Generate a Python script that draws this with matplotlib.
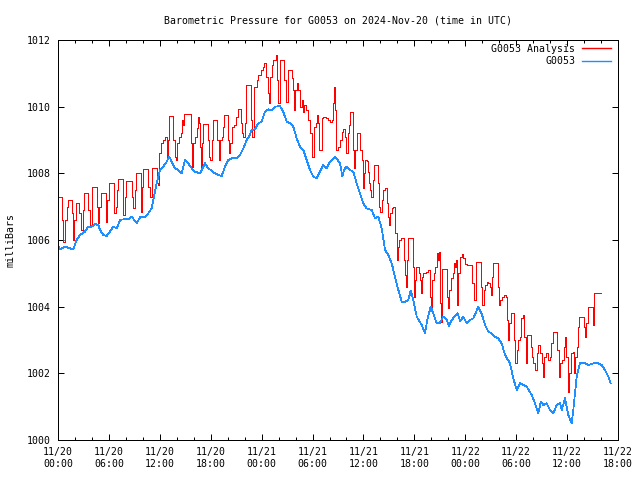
import matplotlib
matplotlib.use("Agg")
import matplotlib.pyplot as plt

# ---- data (hours since 2024-11-20 00:00 UTC) ----
analysis_hours = [
    0.00, 0.51, 0.62, 0.83, 1.03, 1.14, 1.61, 1.71, 1.89, 2.09, 2.51, 2.68, 2.89, 3.10, 3.57, 3.77,
    3.97, 4.56, 4.71, 4.89, 5.03, 5.62, 5.83, 6.05, 6.60, 6.78, 6.99, 7.11, 7.70, 7.90, 8.01, 8.69,
    8.84, 9.02, 9.16, 9.75, 9.90, 10.05, 10.64, 10.84, 11.02, 11.11, 11.67, 11.79, 11.94, 12.14,
    12.41, 12.61, 12.81, 12.88, 13.02, 13.12, 13.59, 13.79, 13.91, 14.06, 14.26, 14.46, 14.58,
    14.70, 14.85, 15.64, 15.79, 15.95, 16.15, 16.35, 16.54, 16.65, 16.77, 16.89, 17.01, 17.13,
    17.64, 17.80, 17.97, 18.12, 18.30, 18.70, 18.94, 19.09, 19.29, 19.41, 19.60, 20.00, 20.15,
    20.27, 20.47, 20.74, 20.94, 21.18, 21.57, 21.69, 21.84, 22.00, 22.16, 22.71, 22.90, 23.10,
    23.42, 23.61, 23.93, 24.20, 24.31, 24.51, 24.72, 24.83, 24.99, 25.19, 25.38, 25.66, 25.81,
    25.96, 26.16, 26.67, 26.91, 27.07, 27.54, 27.66, 27.78, 27.93, 28.13, 28.29, 28.52, 28.72,
    28.91, 29.03, 29.23, 29.47, 29.70, 29.90, 29.99, 30.21, 30.37, 30.56, 30.68, 30.80, 31.08,
    31.27, 31.59, 31.82, 32.06, 32.29, 32.45, 32.56, 32.68, 32.82, 33.04, 33.24, 33.44, 33.63,
    33.83, 34.00, 34.18, 34.33, 34.41, 34.73, 34.92, 35.04, 35.20, 35.65, 35.79, 35.95, 36.07,
    36.18, 36.38, 36.57, 36.71, 36.83, 36.93, 37.07, 37.24, 37.72, 37.87, 37.99, 38.13, 38.34,
    38.54, 38.74, 38.89, 39.05, 39.16, 39.33, 39.52, 39.75, 39.90, 40.04, 40.23, 40.43, 40.78,
    40.90, 41.02, 41.17, 41.29, 41.80, 41.92, 42.08, 42.23, 42.55, 42.66, 42.75, 42.90, 43.05,
    43.37, 43.64, 43.81, 43.93, 44.08, 44.26, 44.43, 44.63, 44.79, 44.90, 45.02, 45.10, 45.22,
    45.85, 46.00, 46.14, 46.32, 46.50, 46.71, 46.83, 46.91, 47.03, 47.18, 47.38, 47.58, 47.79,
    47.97, 48.17, 48.79, 49.03, 49.21, 49.32, 49.82, 50.01, 50.15, 50.33, 50.53, 50.71, 50.92,
    51.03, 51.19, 51.30, 51.80, 51.98, 52.13, 52.29, 52.56, 52.80, 52.92, 53.04, 53.21, 53.35,
    53.74, 53.90, 54.04, 54.25, 54.45, 54.60, 54.77, 54.92, 55.12, 55.31, 55.69, 55.86, 56.04,
    56.22, 56.40, 56.61, 56.81, 56.99, 57.13, 57.28, 57.52, 57.79, 57.99, 58.14, 58.31, 58.85,
    59.05, 59.17, 59.37, 59.58, 59.81, 59.93, 60.07, 60.14, 60.28, 60.43, 60.66, 60.82, 60.97,
    61.21, 61.32, 61.44, 61.99, 62.11, 62.27, 62.43, 63.00, 63.23, 63.96,
]
analysis_mb = [
    1007.3, 1006.6, 1005.95, 1006.6, 1007.0, 1007.2, 1006.8, 1006.0, 1006.6, 1007.1, 1006.8, 1006.3,
    1006.9, 1007.4, 1006.9, 1006.45, 1007.58, 1007.0, 1006.5, 1007.0, 1007.4, 1006.55, 1007.2,
    1007.7, 1006.8, 1007.0, 1007.5, 1007.82, 1006.75, 1007.3, 1007.77, 1007.3, 1006.95, 1007.5,
    1008.02, 1006.85, 1007.6, 1008.12, 1007.6, 1007.3, 1007.8, 1008.15, 1007.7, 1007.65, 1008.6,
    1008.9, 1009.0, 1009.1, 1008.8, 1008.45, 1009.0, 1009.72, 1009.0, 1008.5, 1008.4, 1008.9,
    1009.1, 1009.2, 1009.6, 1009.45, 1009.78, 1008.9, 1008.2, 1008.9, 1009.1, 1009.35, 1009.68,
    1009.5, 1008.8, 1008.2, 1008.9, 1009.48, 1009.0, 1008.5, 1008.4, 1009.0, 1009.6, 1009.0,
    1008.4, 1009.0, 1009.1, 1009.4, 1009.75, 1009.0, 1008.6, 1008.9, 1009.4, 1009.45, 1009.7,
    1009.92, 1009.5, 1009.2, 1009.1, 1009.5, 1010.65, 1009.6, 1009.1, 1010.6, 1010.8, 1010.95,
    1011.1, 1011.2, 1011.3, 1010.9, 1010.4, 1010.1, 1010.9, 1011.25, 1011.4, 1011.55, 1010.8,
    1010.1, 1011.4, 1010.8, 1010.15, 1011.1, 1010.85, 1010.5, 1009.9, 1010.5, 1010.7, 1010.5,
    1010.0, 1010.2, 1009.85, 1010.05, 1009.9, 1009.6, 1009.2, 1008.8, 1008.5, 1009.4, 1009.5,
    1009.75, 1009.5, 1008.7, 1009.65, 1009.7, 1009.65, 1009.6, 1009.55, 1009.6, 1010.1, 1010.6,
    1009.9, 1008.7, 1008.8, 1009.0, 1009.25, 1009.32, 1009.1, 1008.6, 1009.2, 1009.45, 1009.85,
    1008.7, 1008.15, 1008.7, 1009.2, 1008.7, 1008.4, 1007.55, 1008.0, 1008.4, 1008.37, 1008.05,
    1007.7, 1007.5, 1007.3, 1007.8, 1008.25, 1007.7, 1007.0, 1006.85, 1007.2, 1007.5, 1007.55,
    1007.1, 1006.7, 1006.45, 1006.8, 1006.95, 1007.0, 1006.2, 1005.4, 1005.8, 1006.0, 1006.05,
    1005.4, 1004.95, 1004.6, 1005.4, 1006.05, 1005.2, 1004.3, 1004.8, 1005.2, 1005.0, 1004.8,
    1004.4, 1004.9, 1005.0, 1005.05, 1005.1, 1004.3, 1004.0, 1004.8, 1005.0, 1005.2, 1005.6,
    1005.4, 1005.65, 1004.1, 1003.55, 1005.12, 1004.3, 1003.95, 1004.5, 1004.85, 1005.0, 1005.3,
    1005.2, 1005.4, 1004.05, 1005.0, 1005.5, 1005.58, 1005.45, 1005.28, 1005.25, 1004.7, 1004.2,
    1004.8, 1005.35, 1004.6, 1004.05, 1004.5, 1004.65, 1004.75, 1004.7, 1004.6, 1004.35, 1004.9,
    1005.3, 1004.6, 1004.05, 1004.2, 1004.3, 1004.35, 1004.3, 1003.6, 1003.0, 1003.5, 1003.8,
    1003.0, 1002.3, 1002.7, 1003.0, 1003.1, 1003.65, 1003.75, 1003.1, 1002.3, 1003.15, 1002.8,
    1002.5, 1002.3, 1002.1, 1002.6, 1002.85, 1002.6, 1002.3, 1001.9, 1002.5, 1002.6, 1002.4,
    1002.5, 1002.9, 1003.25, 1002.7, 1001.9, 1002.3, 1002.4, 1002.8, 1003.1, 1002.5, 1001.8,
    1001.45, 1002.0, 1002.6, 1002.65, 1002.0, 1002.5, 1002.8, 1003.4, 1003.7, 1003.4, 1003.1,
    1003.5, 1004.0, 1003.45, 1004.4, 1004.4,
]

station_hours = [
    0.00, 0.24, 0.83, 1.41, 1.80, 2.20, 2.59, 3.18, 3.57, 3.97, 4.36, 4.75, 4.95, 5.34, 5.74, 6.13,
    6.52, 6.92, 7.31, 7.70, 8.29, 8.69, 9.28, 9.66, 10.25, 10.64, 11.04, 11.23, 11.63, 12.02, 12.41,
    12.81, 13.12, 13.40, 13.79, 14.18, 14.58, 14.97, 15.36, 15.76, 16.15, 16.74, 17.33, 17.71,
    18.11, 18.50, 18.89, 19.29, 19.68, 20.07, 20.47, 21.06, 21.45, 21.84, 22.24, 22.55, 22.83,
    23.22, 23.61, 24.01, 24.40, 24.79, 25.19, 25.58, 26.16, 26.55, 26.95, 27.34, 27.73, 28.13,
    28.52, 28.91, 29.31, 29.70, 30.09, 30.49, 30.88, 31.27, 31.67, 32.06, 32.65, 33.24, 33.51,
    33.74, 34.03, 34.41, 34.80, 35.20, 35.59, 35.98, 36.38, 36.97, 37.36, 37.75, 38.15, 38.54,
    38.93, 39.33, 39.72, 40.11, 40.51, 40.90, 41.29, 41.57, 41.88, 42.28, 42.87, 43.25, 43.52,
    43.93, 44.23, 44.63, 45.02, 45.41, 45.81, 46.08, 46.40, 46.79, 47.11, 47.38, 47.77, 48.17,
    48.56, 48.95, 49.23, 49.54, 49.94, 50.33, 50.71, 51.11, 51.50, 51.89, 52.29, 52.68, 53.27,
    53.66, 54.06, 54.45, 54.84, 55.24, 55.83, 56.22, 56.61, 56.89, 57.20, 57.60, 57.99, 58.38,
    58.78, 59.17, 59.37, 59.75, 60.14, 60.54, 60.73, 61.13, 61.52, 62.11, 62.50, 63.09, 63.68,
    64.08, 64.47, 64.86, 65.14,
]
station_mb = [
    1005.82, 1005.72, 1005.8, 1005.75, 1005.72, 1006.0, 1006.15, 1006.25, 1006.4, 1006.4, 1006.48,
    1006.45, 1006.3, 1006.15, 1006.12, 1006.25, 1006.4, 1006.35, 1006.6, 1006.62, 1006.62, 1006.7,
    1006.5, 1006.68, 1006.68, 1006.8, 1006.95, 1007.2, 1007.7, 1008.1, 1008.2, 1008.35, 1008.5,
    1008.35, 1008.15, 1008.1, 1008.0, 1008.4, 1008.3, 1008.15, 1008.05, 1008.0, 1008.3, 1008.15,
    1008.08, 1008.0, 1007.95, 1007.92, 1008.2, 1008.4, 1008.45, 1008.45, 1008.55, 1008.75, 1009.0,
    1009.12, 1009.3, 1009.32, 1009.5, 1009.55, 1009.85, 1009.92, 1009.9, 1010.0, 1010.02, 1009.85,
    1009.55, 1009.5, 1009.4, 1009.05, 1008.8, 1008.7, 1008.4, 1008.1, 1007.9, 1007.85, 1008.05,
    1008.25, 1008.15, 1008.35, 1008.5, 1008.3, 1007.92, 1008.12, 1008.2, 1008.1, 1008.05, 1007.7,
    1007.4, 1007.1, 1006.95, 1006.9, 1006.65, 1006.7, 1006.35, 1005.7, 1005.55, 1005.3, 1004.9,
    1004.5, 1004.15, 1004.15, 1004.2, 1004.48, 1004.2, 1003.7, 1003.45, 1003.2, 1003.6, 1004.0,
    1003.8, 1003.5, 1003.52, 1003.7, 1003.6, 1003.42, 1003.6, 1003.72, 1003.8, 1003.57, 1003.7,
    1003.5, 1003.6, 1003.65, 1003.82, 1004.0, 1003.78, 1003.45, 1003.25, 1003.2, 1003.1, 1003.05,
    1002.9, 1002.55, 1002.3, 1001.85, 1001.5, 1001.7, 1001.65, 1001.6, 1001.35, 1001.1, 1000.8,
    1001.15, 1001.05, 1001.1, 1000.9, 1000.8, 1001.05, 1001.1, 1000.9, 1001.25, 1000.75, 1000.5,
    1000.9, 1001.9, 1002.3, 1002.3, 1002.25, 1002.3, 1002.3, 1002.25, 1002.1, 1001.9, 1001.7,
]

tick_hours = [0, 6, 12, 18, 24, 30, 36, 42, 48, 54, 60, 66]
tick_labels = ["11/20\n00:00", "11/20\n06:00", "11/20\n12:00", "11/20\n18:00",
               "11/21\n00:00", "11/21\n06:00", "11/21\n12:00", "11/21\n18:00",
               "11/22\n00:00", "11/22\n06:00", "11/22\n12:00", "11/22\n18:00"]
y_ticks = [1000, 1002, 1004, 1006, 1008, 1010, 1012]

# ---- figure ----
FS = 7.1
LW = 0.72
RED = "#ff0000"
BLUE = "#1e8fff"
plt.rcParams["font.family"] = ["DejaVu Sans Mono", "DejaVu Sans"]
plt.rcParams["font.size"] = FS

fig = plt.figure(figsize=(6.4, 4.8), dpi=100)
ax = fig.add_axes([58 / 640, 40 / 480, 560 / 640, 400 / 480])

ax.plot(analysis_hours, analysis_mb, drawstyle="steps-post", color=RED,
        lw=LW, label="G0053 Analysis", antialiased=False)
ax.plot(station_hours, station_mb, color=BLUE, lw=0.55, label="G0053", antialiased=False)

ax.set_xlim(0, 66)
ax.set_ylim(1000, 1012)
ax.set_xticks(tick_hours)
ax.set_xticklabels(tick_labels, linespacing=1.25)
ax.set_xticks(list(range(0, 67, 2)), minor=True)
ax.set_yticks(y_ticks)
ax.set_yticklabels([str(v) for v in y_ticks])

ax.tick_params(which="both", direction="in", top=True, right=True, width=LW, colors="black")
ax.tick_params(which="major", length=4.5, pad=5)
ax.tick_params(which="minor", length=2.3)
ax.tick_params(axis="y", which="minor", left=False, right=False)
for s in ax.spines.values():
    s.set_linewidth(LW)

ax.set_ylabel("milliBars", labelpad=8)
ax.set_title("Barometric Pressure for G0053 on 2024-Nov-20 (time in UTC)", pad=12, fontsize=FS)

leg = ax.legend(loc="upper right", bbox_to_anchor=(1.0, 1.009), markerfirst=False,
                frameon=False, handlelength=2.9, handletextpad=0.7, labelspacing=0.25,
                borderaxespad=0.45, borderpad=0.3)
for h, c in zip(leg.get_lines(), [RED, BLUE]):
    h.set_linewidth(1.0)
    h.set_color(c)
    h.set_antialiased(True)

fig.savefig("out.png", dpi=100)
